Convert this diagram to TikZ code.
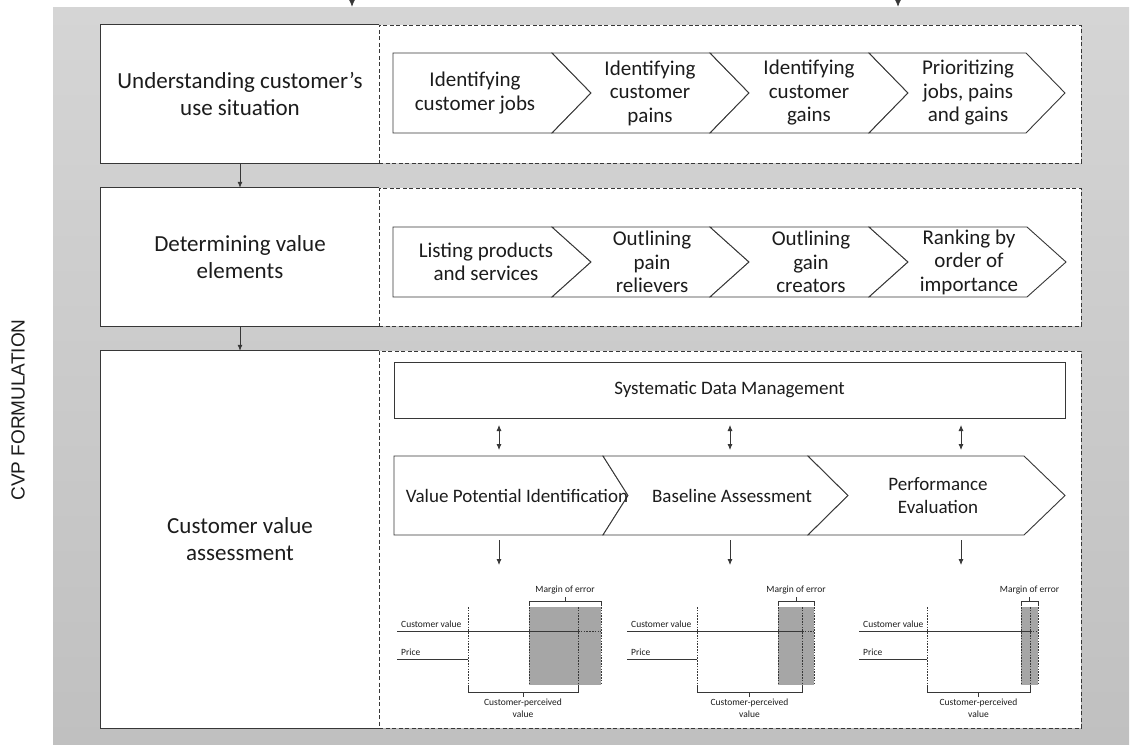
\documentclass[tikz,border=0pt]{standalone}
\usepackage{fontspec}
\setmainfont{Carlito}
\newfontfamily\labelfont{Liberation Sans}
\usetikzlibrary{arrows.meta}

\definecolor{panelTop}{RGB}{213,213,213}
\definecolor{panelBot}{RGB}{192,192,192}
\definecolor{ink}{RGB}{28,28,28}
\definecolor{edge}{RGB}{55,55,55}
\definecolor{band}{RGB}{166,166,166}

% one chevron: left x, top-right corner x, top y, bottom y, notch depth, tip depth
\newcommand\cvpchev[6]{%
  \draw[chevline] (#1,#3) -- (#2,#3) -- ({#2+#6},{(#3+#4)/2}) -- (#2,#4)
    -- (#1,#4) -- ({#1+#5},{(#3+#4)/2}) -- cycle;}

% value chart: start x, price end x, band left x, band middle x, band right x, name prefix
\newcommand\cvpgraph[6]{%
  \fill[band] (#3,607) rectangle (#5,685);
  \draw[fine] (#3,607) -- (#3,685);
  \draw[fine] (#5,607) -- (#5,685);
  \draw[fine] (#4,607) -- (#4,692);
  \draw[fine] (#2,607) -- (#2,692);
  \draw[thinline] (#1,631) -- (#4,631);
  \draw[fine] (#4,631) -- (#5,631);
  \draw[thinline] (#1,659) -- (#2,659);
  \draw[thinline] (#3,606) -- (#3,601) -- (#5,601) -- (#5,606);
  \draw[thinline] ({(#3+#5)/2},601) -- ({(#3+#5)/2},597);
  \draw[thinline] (#2,687) -- (#2,692) -- (#4,692) -- (#4,687);
  \draw[thinline] ({(#2+#4)/2},692) -- ({(#2+#4)/2},697);
  \node[small,anchor=south] (#6me) at ({(#3+#5)/2},594) {Margin of error};
  \node[small,anchor=base west] (#6cv) at ({#1+4},627) {Customer value};
  \node[small,anchor=base west] (#6pr) at ({#1+4},655) {Price};
  \node[small,anchor=north,align=center] (#6cp) at ({(#2+#4)/2},699) {Customer-perceived\\value};
}

\begin{document}
\begin{tikzpicture}[x=1pt,y=-1pt,
  every node/.style={inner sep=0pt,text=ink},
  panel/.style={top color=panelTop,bottom color=panelBot,draw=none,
    minimum width=1076,minimum height=737},
  stagebox/.style={fill=white,draw=none,minimum width=278,align=center,
    font=\fontsize{23}{27}\selectfont},
  stageedge/.style={draw=edge,line width=1.2pt},
  detailbox/.style={fill=white,draw=edge,line width=0.9pt,
    dash pattern=on 4pt off 2.5pt,minimum width=702},
  chevline/.style={draw=edge,line width=0.9pt,fill=white,line join=miter},
  chevtext/.style={align=center,font=\fontsize{21}{23.5}\selectfont},
  rowtext/.style={align=center,font=\fontsize{19}{23}\selectfont},
  arr/.style={draw=edge,line width=0.8pt,-{Latex[length=6pt,width=5pt]}},
  toparr/.style={draw=edge,line width=0.8pt,-{Latex[length=8pt,width=7pt]}},
  darr/.style={draw=edge,line width=0.8pt,{Latex[length=6pt,width=5pt]}-{Latex[length=6pt,width=5pt]}},
  thinline/.style={draw=edge,line width=0.8pt},
  fine/.style={draw=edge,line width=0.7pt,dash pattern=on 1.6pt off 1.2pt},
  small/.style={font=\fontsize{9.5}{11.5}\selectfont,align=center}
]
\useasboundingbox (0,0) rectangle (1131,744);
\fill[white] (0,0) rectangle (1131,744);

% background band
\node[panel] (panel) at (591,375.5) {};

% incoming arrows
\coordinate (inA) at (352,-4);
\coordinate (inB) at (898,-4);
\draw[toparr] (inA) -- (inA |- panel.north);
\draw[toparr] (inB) -- (inB |- panel.north);

% side label
\node[rotate=90,font=\labelfont\fontsize{19}{22}\selectfont] (side) at (18,410) {CVP FORMULATION};

% stage boxes (white ground)
\node[stagebox,minimum height=138] (s1) at (240,94) {Understanding customer’s\\use situation};
\node[stagebox,minimum height=138] (s2) at (240,257) {Determining value\\elements};
\node[stagebox,minimum height=377] (s3) at (240,539.5) {Customer value\\assessment};

% dashed detail panels
\node[detailbox,minimum height=138] (d1) at (730,94) {};
\node[detailbox,minimum height=138] (d2) at (730,257) {};
\node[detailbox,minimum height=377] (d3) at (730,539.5) {};

% stage box outlines (right side is the dashed panel edge)
\foreach \b in {s1,s2,s3}
  \draw[stageedge] (\b.north east) -- (\b.north west) -- (\b.south west) -- (\b.south east);

\draw[arr] (s1.south) -- (s2.north);
\draw[arr] (s2.south) -- (s3.north);

% row 1 chevrons
\cvpchev{393}{552}{53}{133}{0}{39}
\cvpchev{552}{710}{53}{133}{39}{39}
\cvpchev{710}{869}{53}{133}{39}{39}
\cvpchev{869}{1026}{53}{133}{39}{39}
\node[chevtext] (j1) at (475,93) {Identifying\\customer jobs};
\node[chevtext] (j2) at (650,93) {Identifying\\customer\\pains};
\node[chevtext] (j3) at (809,93) {Identifying\\customer\\gains};
\node[chevtext] (j4) at (968,93) {Prioritizing\\jobs, pains\\and gains};

% row 2 chevrons
\cvpchev{393}{552}{227}{297}{0}{39}
\cvpchev{552}{710}{227}{297}{39}{39}
\cvpchev{710}{869}{227}{297}{39}{39}
\cvpchev{869}{1027}{227}{297}{39}{39}
\node[chevtext] (v1) at (486,262) {Listing products\\and services};
\node[chevtext] (v2) at (652,262) {Outlining\\pain\\relievers};
\node[chevtext] (v3) at (811,262) {Outlining\\gain\\creators};
\node[chevtext] (v4) at (969,262) {Ranking by\\order of\\importance};

% row 3: data management and assessment steps
\node[draw=edge,line width=0.9pt,fill=white,minimum width=671,minimum height=56,
  rowtext] (sdm) at (729.5,390) {Systematic Data Management};

\cvpchev{394}{603}{456}{535}{0}{25}
\cvpchev{603}{808}{456}{535}{25}{40}
\cvpchev{808}{1024}{456}{535}{40}{41}
\node[rowtext] (a1) at (517,495.5) {Value Potential Identification};
\node[rowtext] (a2) at (732,495.5) {Baseline Assessment};
\node[rowtext] (a3) at (938,495.5) {Performance\\Evaluation};

\foreach \x/\n in {499/1,730/2,961/3}{
  \coordinate (up\n) at (\x,425);
  \coordinate (lo\n) at (\x,450);
  \coordinate (dt\n) at (\x,540);
  \coordinate (db\n) at (\x,565);
  \draw[darr] (up\n) -- (lo\n);
  \draw[arr] (dt\n) -- (db\n);
}

% value charts
\cvpgraph{397}{468}{529}{578}{601}{ga}
\cvpgraph{627}{697}{778}{802}{814}{gb}
\cvpgraph{859}{927}{1021}{1030}{1038}{gc}
\end{tikzpicture}
\end{document}
